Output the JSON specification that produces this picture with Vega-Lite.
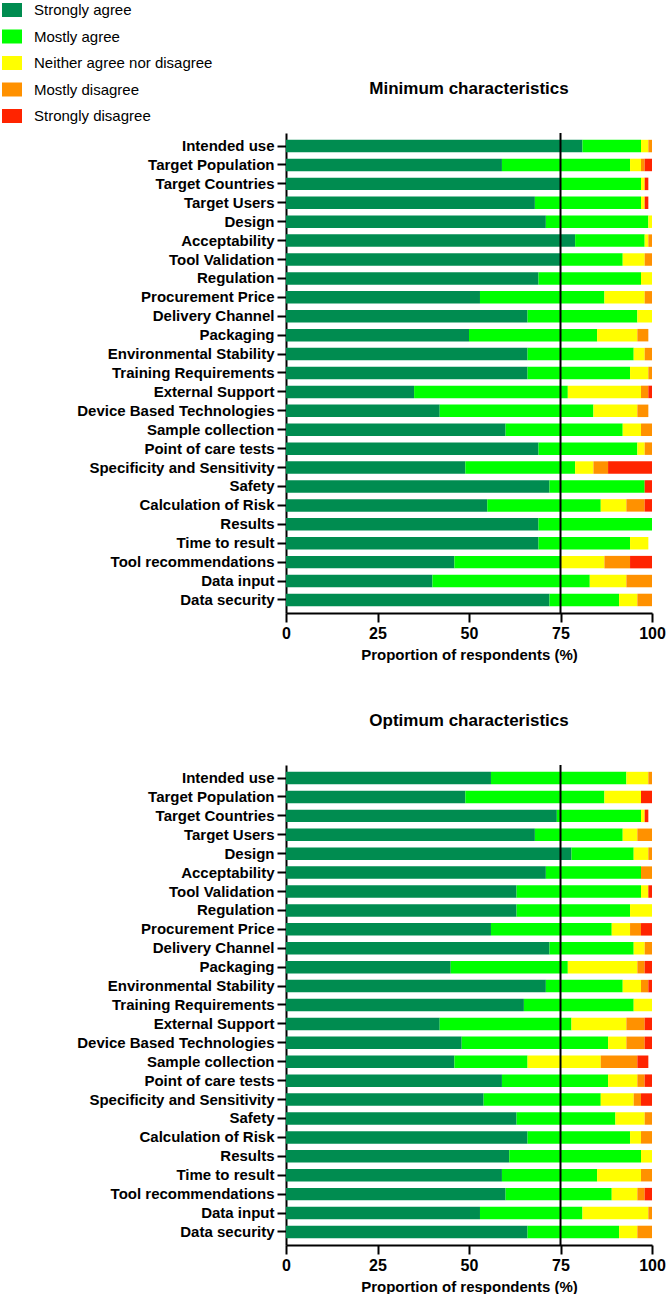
{
  "$schema": "https://vega.github.io/schema/vega-lite/v6.json",
  "autosize": {"type": "pad"},
  "padding": {"left": 2, "top": 0, "right": 0, "bottom": 0},
  "background": "white",
  "config": {
    "font": "Liberation Sans",
    "view": {"stroke": null},
    "axis": {
      "domainColor": "black",
      "domainWidth": 2,
      "tickColor": "black",
      "tickWidth": 2,
      "tickSize": 9,
      "grid": false,
      "labelColor": "black",
      "labelFont": "Liberation Sans",
      "labelFontWeight": "bold",
      "titleColor": "black",
      "titleFont": "Liberation Sans",
      "titleFontWeight": "bold"
    },
    "axisX": {"labelFontSize": 16, "labelPadding": 3, "labelFlush": false, "titleFontSize": 15, "titlePadding": 6},
    "axisY": {"labelFontSize": 15, "labelPadding": 3, "labelLimit": 260},
    "title": {"font": "Liberation Sans", "fontSize": 17, "fontWeight": "bold", "color": "black", "anchor": "middle", "offset": 34},
    "legend": {
      "orient": "none",
      "legendX": -284,
      "legendY": -133,
      "title": null,
      "symbolType": "M-1,-0.7H1V0.7H-1Z",
      "symbolSize": 400,
      "symbolStrokeWidth": 0,
      "symbolOpacity": 1,
      "labelFont": "Liberation Sans",
      "labelFontSize": 15,
      "labelColor": "black",
      "labelOffset": 12,
      "labelLimit": 320,
      "rowPadding": 8.5
    }
  },
  "datasets": {
    "responses": [
      {"response": "Strongly agree", "rank": 1},
      {"response": "Mostly agree", "rank": 2},
      {"response": "Neither agree nor disagree", "rank": 3},
      {"response": "Mostly disagree", "rank": 4},
      {"response": "Strongly disagree", "rank": 5}
    ],
    "minimum": [
      {"item": "Intended use", "Strongly agree": 81, "Mostly agree": 16, "Neither agree nor disagree": 2, "Mostly disagree": 1, "Strongly disagree": 0},
      {"item": "Target Population", "Strongly agree": 59, "Mostly agree": 35, "Neither agree nor disagree": 3, "Mostly disagree": 1, "Strongly disagree": 2},
      {"item": "Target Countries", "Strongly agree": 75, "Mostly agree": 22, "Neither agree nor disagree": 1, "Mostly disagree": 0, "Strongly disagree": 1},
      {"item": "Target Users", "Strongly agree": 68, "Mostly agree": 29, "Neither agree nor disagree": 1, "Mostly disagree": 0, "Strongly disagree": 1},
      {"item": "Design ", "Strongly agree": 71, "Mostly agree": 28, "Neither agree nor disagree": 1, "Mostly disagree": 0, "Strongly disagree": 0},
      {"item": "Acceptability", "Strongly agree": 79, "Mostly agree": 19, "Neither agree nor disagree": 1, "Mostly disagree": 1, "Strongly disagree": 0},
      {"item": "Tool Validation", "Strongly agree": 75, "Mostly agree": 17, "Neither agree nor disagree": 6, "Mostly disagree": 2, "Strongly disagree": 0},
      {"item": "Regulation", "Strongly agree": 69, "Mostly agree": 28, "Neither agree nor disagree": 3, "Mostly disagree": 0, "Strongly disagree": 0},
      {"item": "Procurement Price", "Strongly agree": 53, "Mostly agree": 34, "Neither agree nor disagree": 11, "Mostly disagree": 2, "Strongly disagree": 0},
      {"item": "Delivery Channel", "Strongly agree": 66, "Mostly agree": 30, "Neither agree nor disagree": 4, "Mostly disagree": 0, "Strongly disagree": 0},
      {"item": "Packaging", "Strongly agree": 50, "Mostly agree": 35, "Neither agree nor disagree": 11, "Mostly disagree": 3, "Strongly disagree": 0},
      {"item": "Environmental Stability", "Strongly agree": 66, "Mostly agree": 29, "Neither agree nor disagree": 3, "Mostly disagree": 2, "Strongly disagree": 0},
      {"item": "Training Requirements", "Strongly agree": 66, "Mostly agree": 28, "Neither agree nor disagree": 5, "Mostly disagree": 1, "Strongly disagree": 0},
      {"item": "External Support", "Strongly agree": 35, "Mostly agree": 42, "Neither agree nor disagree": 20, "Mostly disagree": 2, "Strongly disagree": 1},
      {"item": "Device Based Technologies", "Strongly agree": 42, "Mostly agree": 42, "Neither agree nor disagree": 12, "Mostly disagree": 3, "Strongly disagree": 0},
      {"item": "Sample collection", "Strongly agree": 60, "Mostly agree": 32, "Neither agree nor disagree": 5, "Mostly disagree": 3, "Strongly disagree": 0},
      {"item": "Point of care tests", "Strongly agree": 69, "Mostly agree": 27, "Neither agree nor disagree": 2, "Mostly disagree": 2, "Strongly disagree": 0},
      {"item": "Specificity and Sensitivity", "Strongly agree": 49, "Mostly agree": 30, "Neither agree nor disagree": 5, "Mostly disagree": 4, "Strongly disagree": 12},
      {"item": "Safety", "Strongly agree": 72, "Mostly agree": 26, "Neither agree nor disagree": 0, "Mostly disagree": 0, "Strongly disagree": 2},
      {"item": "Calculation of Risk", "Strongly agree": 55, "Mostly agree": 31, "Neither agree nor disagree": 7, "Mostly disagree": 5, "Strongly disagree": 2},
      {"item": "Results", "Strongly agree": 69, "Mostly agree": 31, "Neither agree nor disagree": 0, "Mostly disagree": 0, "Strongly disagree": 0},
      {"item": "Time to result", "Strongly agree": 69, "Mostly agree": 25, "Neither agree nor disagree": 5, "Mostly disagree": 0, "Strongly disagree": 0},
      {"item": "Tool recommendations", "Strongly agree": 46, "Mostly agree": 29, "Neither agree nor disagree": 12, "Mostly disagree": 7, "Strongly disagree": 6},
      {"item": "Data input", "Strongly agree": 40, "Mostly agree": 43, "Neither agree nor disagree": 10, "Mostly disagree": 7, "Strongly disagree": 0},
      {"item": "Data security", "Strongly agree": 72, "Mostly agree": 19, "Neither agree nor disagree": 5, "Mostly disagree": 4, "Strongly disagree": 0}
    ],
    "optimum": [
      {"item": "Intended use", "Strongly agree": 56, "Mostly agree": 37, "Neither agree nor disagree": 6, "Mostly disagree": 1, "Strongly disagree": 0},
      {"item": "Target Population", "Strongly agree": 49, "Mostly agree": 38, "Neither agree nor disagree": 10, "Mostly disagree": 0, "Strongly disagree": 3},
      {"item": "Target Countries", "Strongly agree": 74, "Mostly agree": 23, "Neither agree nor disagree": 1, "Mostly disagree": 0, "Strongly disagree": 1},
      {"item": "Target Users", "Strongly agree": 68, "Mostly agree": 24, "Neither agree nor disagree": 4, "Mostly disagree": 4, "Strongly disagree": 0},
      {"item": "Design ", "Strongly agree": 78, "Mostly agree": 17, "Neither agree nor disagree": 4, "Mostly disagree": 1, "Strongly disagree": 0},
      {"item": "Acceptability", "Strongly agree": 71, "Mostly agree": 26, "Neither agree nor disagree": 0, "Mostly disagree": 3, "Strongly disagree": 0},
      {"item": "Tool Validation", "Strongly agree": 63, "Mostly agree": 34, "Neither agree nor disagree": 2, "Mostly disagree": 0, "Strongly disagree": 1},
      {"item": "Regulation", "Strongly agree": 63, "Mostly agree": 31, "Neither agree nor disagree": 6, "Mostly disagree": 0, "Strongly disagree": 0},
      {"item": "Procurement Price", "Strongly agree": 56, "Mostly agree": 33, "Neither agree nor disagree": 5, "Mostly disagree": 3, "Strongly disagree": 3},
      {"item": "Delivery Channel", "Strongly agree": 72, "Mostly agree": 23, "Neither agree nor disagree": 3, "Mostly disagree": 2, "Strongly disagree": 0},
      {"item": "Packaging", "Strongly agree": 45, "Mostly agree": 32, "Neither agree nor disagree": 19, "Mostly disagree": 2, "Strongly disagree": 2},
      {"item": "Environmental Stability", "Strongly agree": 71, "Mostly agree": 21, "Neither agree nor disagree": 5, "Mostly disagree": 2, "Strongly disagree": 1},
      {"item": "Training Requirements", "Strongly agree": 65, "Mostly agree": 30, "Neither agree nor disagree": 5, "Mostly disagree": 0, "Strongly disagree": 0},
      {"item": "External Support", "Strongly agree": 42, "Mostly agree": 36, "Neither agree nor disagree": 15, "Mostly disagree": 5, "Strongly disagree": 2},
      {"item": "Device Based Technologies", "Strongly agree": 48, "Mostly agree": 40, "Neither agree nor disagree": 5, "Mostly disagree": 5, "Strongly disagree": 2},
      {"item": "Sample collection", "Strongly agree": 46, "Mostly agree": 20, "Neither agree nor disagree": 20, "Mostly disagree": 10, "Strongly disagree": 3},
      {"item": "Point of care tests", "Strongly agree": 59, "Mostly agree": 29, "Neither agree nor disagree": 8, "Mostly disagree": 2, "Strongly disagree": 2},
      {"item": "Specificity and Sensitivity", "Strongly agree": 54, "Mostly agree": 32, "Neither agree nor disagree": 9, "Mostly disagree": 2, "Strongly disagree": 3},
      {"item": "Safety", "Strongly agree": 63, "Mostly agree": 27, "Neither agree nor disagree": 8, "Mostly disagree": 2, "Strongly disagree": 0},
      {"item": "Calculation of Risk", "Strongly agree": 66, "Mostly agree": 28, "Neither agree nor disagree": 3, "Mostly disagree": 3, "Strongly disagree": 0},
      {"item": "Results", "Strongly agree": 61, "Mostly agree": 36, "Neither agree nor disagree": 3, "Mostly disagree": 0, "Strongly disagree": 0},
      {"item": "Time to result", "Strongly agree": 59, "Mostly agree": 26, "Neither agree nor disagree": 12, "Mostly disagree": 3, "Strongly disagree": 0},
      {"item": "Tool recommendations", "Strongly agree": 60, "Mostly agree": 29, "Neither agree nor disagree": 7, "Mostly disagree": 2, "Strongly disagree": 2},
      {"item": "Data input", "Strongly agree": 53, "Mostly agree": 28, "Neither agree nor disagree": 18, "Mostly disagree": 1, "Strongly disagree": 0},
      {"item": "Data security", "Strongly agree": 66, "Mostly agree": 25, "Neither agree nor disagree": 5, "Mostly disagree": 4, "Strongly disagree": 0}
    ],
    "threshold": [{"cutoff": 75}]
  },
  "spacing": 50,
  "vconcat": [
    {
      "title": "Minimum characteristics",
      "width": 366,
      "height": 480,
      "layer": [
        {
          "data": {"name": "minimum"},
          "transform": [
            {"fold": ["Strongly agree", "Mostly agree", "Neither agree nor disagree", "Mostly disagree", "Strongly disagree"], "as": ["response", "pct"]},
            {"lookup": "response", "from": {"data": {"name": "responses"}, "key": "response", "fields": ["rank"]}}
          ],
          "mark": {"type": "bar"},
          "encoding": {
            "y": {"field": "item", "type": "nominal", "sort": null, "scale": {"paddingInner": 0.34, "paddingOuter": 0.36}, "axis": {"title": null}},
            "x": {"field": "pct", "type": "quantitative", "stack": "zero", "scale": {"domain": [0, 100], "nice": false}, "axis": {"values": [0, 25, 50, 75, 100], "title": "Proportion of respondents (%)"}},
            "order": {"field": "rank", "type": "quantitative", "sort": "ascending"},
            "color": {
              "field": "response", "type": "nominal",
              "sort": ["Strongly agree", "Mostly agree", "Neither agree nor disagree", "Mostly disagree", "Strongly disagree"],
              "scale": {"domain": ["Strongly agree", "Mostly agree", "Neither agree nor disagree", "Mostly disagree", "Strongly disagree"], "range": ["#008C50", "#00FF00", "#FFFF00", "#FF9100", "#FF2400"]}
            }
          }
        },
        {
          "data": {"name": "threshold"},
          "mark": {"type": "rule", "color": "black", "strokeWidth": 2},
          "encoding": {"x": {"field": "cutoff", "type": "quantitative"}}
        }
      ]
    },
    {
      "title": "Optimum characteristics",
      "width": 366,
      "height": 480,
      "layer": [
        {
          "data": {"name": "optimum"},
          "transform": [
            {"fold": ["Strongly agree", "Mostly agree", "Neither agree nor disagree", "Mostly disagree", "Strongly disagree"], "as": ["response", "pct"]},
            {"lookup": "response", "from": {"data": {"name": "responses"}, "key": "response", "fields": ["rank"]}}
          ],
          "mark": {"type": "bar"},
          "encoding": {
            "y": {"field": "item", "type": "nominal", "sort": null, "scale": {"paddingInner": 0.34, "paddingOuter": 0.36}, "axis": {"title": null}},
            "x": {"field": "pct", "type": "quantitative", "stack": "zero", "scale": {"domain": [0, 100], "nice": false}, "axis": {"values": [0, 25, 50, 75, 100], "title": "Proportion of respondents (%)"}},
            "order": {"field": "rank", "type": "quantitative", "sort": "ascending"},
            "color": {
              "field": "response", "type": "nominal",
              "sort": ["Strongly agree", "Mostly agree", "Neither agree nor disagree", "Mostly disagree", "Strongly disagree"],
              "scale": {"domain": ["Strongly agree", "Mostly agree", "Neither agree nor disagree", "Mostly disagree", "Strongly disagree"], "range": ["#008C50", "#00FF00", "#FFFF00", "#FF9100", "#FF2400"]}
            }
          }
        },
        {
          "data": {"name": "threshold"},
          "mark": {"type": "rule", "color": "black", "strokeWidth": 2},
          "encoding": {"x": {"field": "cutoff", "type": "quantitative"}}
        }
      ]
    }
  ]
}
